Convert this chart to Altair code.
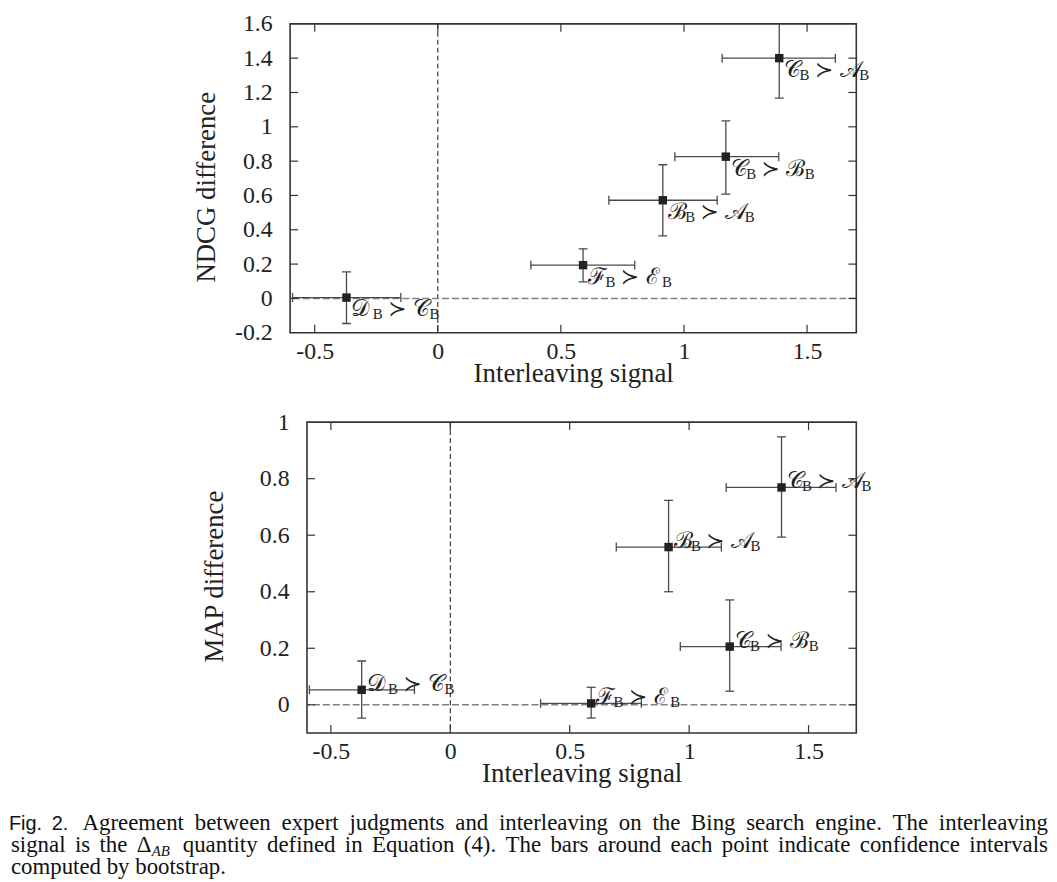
import altair as alt
import pandas as pd

# ---------------- data ----------------
pair_winner = ["D", "F", "B", "C", "C"]
pair_loser = ["C", "E", "A", "B", "A"]

signal = [-0.371, 0.59, 0.914, 1.17, 1.387]
signal_lo = [-0.59, 0.378, 0.695, 0.963, 1.155]
signal_hi = [-0.15, 0.80, 1.135, 1.385, 1.615]

ndcg = [0.005, 0.194, 0.572, 0.826, 1.40]
ndcg_lo = [-0.146, 0.096, 0.364, 0.608, 1.167]
ndcg_hi = [0.155, 0.289, 0.779, 1.034, 1.70]

map_diff = [0.053, 0.005, 0.558, 0.206, 0.769]
map_lo = [-0.047, -0.047, 0.40, 0.048, 0.593]
map_hi = [0.155, 0.062, 0.723, 0.371, 0.948]

x_ticks = [-0.5, 0, 0.5, 1, 1.5]
ndcg_ticks = [-0.2, 0, 0.2, 0.4, 0.6, 0.8, 1, 1.2, 1.4, 1.6]
map_ticks = [0, 0.2, 0.4, 0.6, 0.8, 1]

x_domain = [-0.6, 1.7]
ndcg_domain = [-0.2, 1.6]
map_domain = [-0.1, 1.0]

caption_fig = ["Fig.", "2."]
caption_line1 = "Agreement between expert judgments and interleaving on the Bing search engine. The interleaving"
caption_line2 = "signal is the \u0394_AB quantity defined in Equation (4). The bars around each point indicate confidence intervals"
caption_line3 = "computed by bootstrap."

SCRIPT = {"A": "\U0001D49C", "B": "\u212C", "C": "\U0001D49E", "D": "\U0001D49F",
          "E": "\u2130", "F": "\u2131"}
GLYPH_W = {"A": 18, "B": 17, "C": 15, "D": 21, "E": 15, "F": 17}

SERIF = "Liberation Serif"
INK = "#222222"
FRAME = "#333333"
BAR = "#4a4a4a"
TICK_LEN = 8

# Times-compatible advance widths (em) used to justify the caption lines
_W = dict(zip("abcdefghijklmnopqrstuvwxyz",
              [.444, .5, .444, .5, .444, .333, .5, .5, .278, .278, .5, .278, .778, .5, .5, .5, .5,
               .333, .389, .278, .5, .5, .722, .5, .5, .444]))
_W.update(dict(zip("ABCDEFGHIJKLMNOPQRSTUVWXYZ",
                   [.722, .667, .667, .722, .611, .556, .722, .722, .333, .389, .722, .611, .889,
                    .722, .722, .556, .722, .667, .556, .611, .722, .722, .944, .722, .722, .611])))
_W.update({" ": .25, ".": .25, ",": .25, "(": .333, ")": .333, "-": .333, "\u0394": .612})
_W.update({d: .5 for d in "0123456789"})


def text_w(s, fs):
    return sum(_W.get(c, .5) for c in s) * fs


def panel(yvals, ylo, yhi, ydomain, yticks, ytitle, width, height, label_dy, title_x, title_y):
    minus = "replace(datum.label, '\u2212', '-')"
    xscale = alt.Scale(domain=x_domain, nice=False, zero=False)
    yscale = alt.Scale(domain=ydomain, nice=False, zero=False)
    xaxis = alt.Axis(values=x_ticks, format="~g", labelExpr=minus, title="Interleaving signal",
                     grid=False, domain=False, ticks=False, tickSize=0, labelPadding=26,
                     labelBaseline="alphabetic", titleY=49, titleBaseline="alphabetic",
                     labelFlush=False)
    yaxis = alt.Axis(values=yticks, format="~g", labelExpr=minus, title=ytitle,
                     grid=False, domain=False, ticks=False, tickSize=0, labelPadding=18,
                     titleX=title_x, titleY=title_y, titleAngle=-90, titleAlign="center",
                     titleBaseline="middle", labelFlush=False)

    def X(f):
        return alt.X(f, type="quantitative", scale=xscale, axis=xaxis)

    def Y(f):
        return alt.Y(f, type="quantitative", scale=yscale, axis=yaxis)

    df = pd.DataFrame({"x": signal, "xlo": signal_lo, "xhi": signal_hi,
                       "y": yvals, "ylo": ylo, "yhi": yhi})
    base = alt.Chart(df)
    layers = []
    layers.append(alt.Chart(pd.DataFrame({"v": [0]})).mark_rule(
        color="#111111", strokeWidth=1, strokeDash=[5, 3]).encode(x=X("v")))
    layers.append(alt.Chart(pd.DataFrame({"v": [0]})).mark_rule(
        color="#808080", strokeWidth=1.6, strokeDash=[7, 3]).encode(y=Y("v")))
    layers.append(base.mark_rule(color=BAR, strokeWidth=1.3, clip=True).encode(
        x=X("xlo"), x2="xhi", y=Y("y")))
    layers.append(base.mark_rule(color=BAR, strokeWidth=1.3, clip=True).encode(
        x=X("x"), y=Y("ylo"), y2="yhi"))
    for f in ["xlo", "xhi"]:
        layers.append(base.mark_tick(orient="vertical", size=9, thickness=1.3, color=BAR,
                                     clip=True, opacity=1).encode(x=X(f), y=Y("y")))
    for f in ["ylo", "yhi"]:
        layers.append(base.mark_tick(orient="horizontal", size=9, thickness=1.3, color=BAR,
                                     clip=True, opacity=1).encode(x=X("x"), y=Y(f)))
    layers.append(base.mark_square(size=72, color=INK, opacity=1).encode(x=X("x"), y=Y("y")))
    for i in range(len(signal)):
        w, l = pair_winner[i], pair_loser[i]
        x1 = 5
        x2 = x1 + GLYPH_W[w] + 0.5
        x3 = x2 + 15.5
        x4 = x3 + 25
        x5 = x4 + GLYPH_W[l] + 1.5
        pieces = [
            (SCRIPT[w], x1, 0, 23, SERIF),
            ("B", x2, 3, 15, SERIF),
            ("\u227B", x3, 0, 22, "DejaVu Sans"),
            (SCRIPT[l], x4, 0, 23, SERIF),
            ("B", x5, 3, 15, SERIF),
        ]
        one = pd.DataFrame({"x": [signal[i]], "y": [yvals[i]]})
        for txt, dx, ddy, fs, font in pieces:
            layers.append(alt.Chart(one).mark_text(
                align="left", baseline="alphabetic", dx=dx, dy=label_dy + ddy,
                fontSize=fs, font=font, color=INK, text=txt).encode(x=X("x"), y=Y("y")))
    xt = pd.DataFrame({"v": x_ticks})
    yt = pd.DataFrame({"v": [t for t in yticks if ydomain[0] < t < ydomain[1]]})
    tk = dict(color=FRAME, strokeWidth=1.2)
    layers.append(alt.Chart(xt).mark_rule(**tk).encode(
        x=X("v"), y=alt.value(height), y2=alt.value(height - TICK_LEN)))
    layers.append(alt.Chart(xt).mark_rule(**tk).encode(
        x=X("v"), y=alt.value(0), y2=alt.value(TICK_LEN)))
    layers.append(alt.Chart(yt).mark_rule(**tk).encode(
        y=Y("v"), x=alt.value(0), x2=alt.value(TICK_LEN)))
    layers.append(alt.Chart(yt).mark_rule(**tk).encode(
        y=Y("v"), x=alt.value(width), x2=alt.value(width - TICK_LEN)))
    return alt.layer(*layers).properties(width=width, height=height)


def spacer(w):
    return alt.Chart(pd.DataFrame({"v": [0]})).mark_point(opacity=0).encode(
        x=alt.X("v:Q", axis=None), y=alt.Y("v:Q", axis=None)
    ).properties(width=w, height=1, view=alt.ViewBackground(stroke="transparent"))


top = panel(ndcg, ndcg_lo, ndcg_hi, ndcg_domain, ndcg_ticks, "NDCG difference",
            570, 311, 19, -84, 164)
bottom = panel(map_diff, map_lo, map_hi, map_domain, map_ticks, "MAP difference",
               553, 313, 1, -93, 155)

top_row = alt.hconcat(spacer(281), top, spacing=0, bounds="flush")
bottom_row = alt.hconcat(spacer(298), bottom, spacing=0, bounds="flush")

# ---------------- caption (justified word by word) ----------------
CAP_FS = 23
SUB_FS = 15
cap_df = pd.DataFrame({"v": [0]})
cap_layers = []


def put(txt, px, py, fs, font=SERIF, style="normal"):
    cap_layers.append(alt.Chart(cap_df).mark_text(
        align="left", baseline="alphabetic", fontSize=fs, font=font, fontStyle=style,
        color="#111111", text=txt).encode(x=alt.value(px), y=alt.value(py)))


def word_w(wd):
    if "_" in wd:
        a, b = wd.split("_")
        return text_w(a, CAP_FS) + 1 + text_w(b, SUB_FS) * 1.05
    return text_w(wd, CAP_FS)


def justify(line, x0, x1, py):
    words = line.split(" ")
    total = sum(word_w(w) for w in words)
    gap = (x1 - x0 - total) / (len(words) - 1)
    x = x0
    for wd in words:
        if "_" in wd:
            a, b = wd.split("_")
            put(a, x, py, CAP_FS)
            put(b, x + text_w(a, CAP_FS) + 1, py + 4, SUB_FS, style="italic")
        else:
            put(wd, x, py, CAP_FS)
        x += word_w(wd) + gap


put(caption_fig[0], -2, 20, 20, font="Liberation Sans")
put(caption_fig[1], 41, 20, 20, font="Liberation Sans")
justify(caption_line1, 72, 1044, 20)
justify(caption_line2, 0, 1044, 41.7)
put(caption_line3, 0, 63.4, CAP_FS)

caption = alt.layer(*cap_layers).properties(
    width=1044, height=66, view=alt.ViewBackground(stroke="transparent"))

chart = alt.vconcat(top_row, bottom_row, caption, spacing=22).properties(
    padding=0, background="white"
).configure_view(stroke=FRAME, strokeWidth=1.6).configure_axis(
    labelFont=SERIF, titleFont=SERIF, labelFontSize=24, titleFontSize=27,
    labelColor=INK, titleColor=INK, titleFontWeight="normal"
)

chart.save("out.html", embed_options={"renderer": "svg", "actions": False})
